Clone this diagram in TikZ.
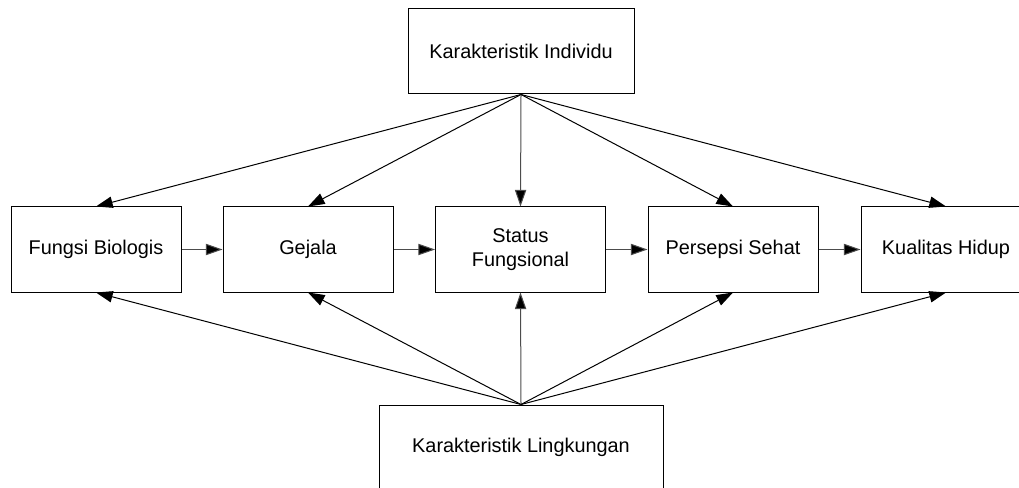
\documentclass[tikz,border=0pt]{standalone}
\usepackage{fontspec}
\setmainfont{Liberation Sans}
\usetikzlibrary{arrows.meta}
\begin{document}
\begin{tikzpicture}[x=0.75pt,y=-0.75pt,
  box/.style={draw=black,line width=0.75pt,fill=white,minimum height=63.75pt,inner sep=0pt,align=center,font=\fontsize{14.9}{18}\selectfont},
  arr/.style={draw=black,line width=0.75pt,-{Triangle[length=12.5pt,width=8.5pt]}},
  arrg/.style={arr,draw=black!70,-{Triangle[length=12.5pt,width=8.5pt,fill=black]}}
]
\useasboundingbox (0,0) rectangle (1019,488);
\clip (0,0) rectangle (1019,488);
\node[box,minimum width=169.5pt] (top) at (521,51.5) {Karakteristik Individu};
\node[box,minimum width=213pt] (bot) at (521,447.5) {Karakteristik Lingkungan};
\node[box,minimum width=127.5pt] (fb) at (96,249.5) {Fungsi Biologis};
\node[box,minimum width=127.5pt] (gj) at (308,249.5) {Gejala};
\node[box,minimum width=127.5pt] (sf) at (520.5,249.5) {Status\\Fungsional};
\node[box,minimum width=127.5pt] (ps) at (733,249.5) {Persepsi Sehat};
\node[box,minimum width=127.5pt] (kh) at (946,249.5) {Kualitas Hidup};
\draw[arrg] (fb.east) -- (gj.west);
\draw[arrg] (gj.east) -- (sf.west);
\draw[arrg] (sf.east) -- (ps.west);
\draw[arrg] (ps.east) -- (kh.west);
\draw[arr] (top.south) -- (fb.north);
\draw[arr] (top.south) -- (gj.north);
\draw[arrg] (top.south) -- (sf.north);
\draw[arr] (top.south) -- (ps.north);
\draw[arr] (top.south) -- (kh.north);
\draw[arr] (bot.north) -- (fb.south);
\draw[arr] (bot.north) -- (gj.south);
\draw[arrg] (bot.north) -- (sf.south);
\draw[arr] (bot.north) -- (ps.south);
\draw[arr] (bot.north) -- (kh.south);
\end{tikzpicture}
\end{document}
